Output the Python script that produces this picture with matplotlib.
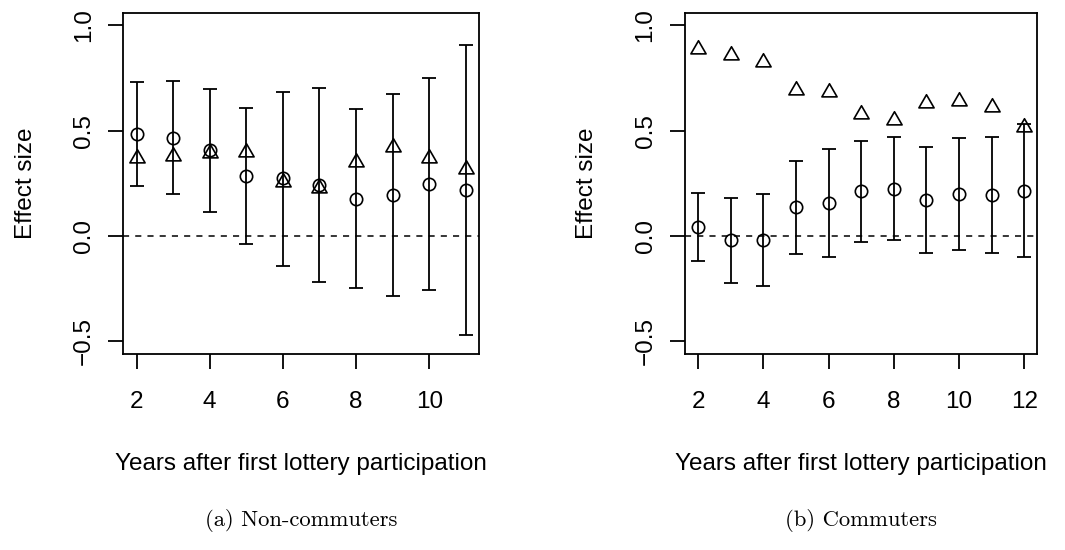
import matplotlib
matplotlib.use("Agg")
import matplotlib.pyplot as plt
from matplotlib.path import Path

# Non-commuters (panel a)
years_a = [2, 3, 4, 5, 6, 7, 8, 9, 10, 11]
circ_a = [0.483, 0.467, 0.409, 0.286, 0.273, 0.240, 0.175, 0.196, 0.248, 0.218]
lo_a = [0.237, 0.199, 0.115, -0.036, -0.142, -0.219, -0.246, -0.286, -0.256, -0.471]
hi_a = [0.731, 0.736, 0.698, 0.606, 0.685, 0.704, 0.602, 0.674, 0.752, 0.908]
tri_a = [0.370, 0.378, 0.395, 0.397, 0.255, 0.228, 0.353, 0.421, 0.370, 0.317]

# Commuters (panel b)
years_b = [2, 3, 4, 5, 6, 7, 8, 9, 10, 11, 12]
circ_b = [0.041, -0.019, -0.019, 0.136, 0.156, 0.212, 0.224, 0.171, 0.199, 0.194, 0.216]
lo_b = [-0.118, -0.223, -0.235, -0.087, -0.101, -0.028, -0.017, -0.082, -0.068, -0.082, -0.098]
hi_b = [0.202, 0.182, 0.199, 0.357, 0.414, 0.450, 0.471, 0.423, 0.463, 0.469, 0.530]
tri_b = [0.888, 0.861, 0.827, 0.691, 0.682, 0.579, 0.550, 0.632, 0.642, 0.614, 0.517]

xticks_a = [2, 4, 6, 8, 10]
xticks_b = [2, 4, 6, 8, 10, 12]
yticks = [-0.5, 0.0, 0.5, 1.0]
xlabel = "Years after first lottery participation"
ylabel = "Effect size"
captions = ["(a) Non-commuters", "(b) Commuters"]

plt.rcParams['font.family'] = ['Liberation Sans', 'DejaVu Sans']

# R style triangle (pch=2), centred on its centroid
tri_marker = Path([(0, 1), (-0.866, -0.5), (0.866, -0.5), (0, 1)],
                  [Path.MOVETO, Path.LINETO, Path.LINETO, Path.CLOSEPOLY])

fig = plt.figure(figsize=(10.65, 5.5), dpi=100)
ax_a = fig.add_axes([0.1158, 0.3564, 0.3340, 0.6205])
ax_b = fig.add_axes([0.6432, 0.3564, 0.3308, 0.6205])

lw = 1.3
fs = 17.5


def panel(ax, years, circ, lo, hi, tri, xticks):
    yerr = [[c - l for c, l in zip(circ, lo)], [h - c for h, c in zip(hi, circ)]]
    ax.axhline(0, color='black', lw=1.1, linestyle=(0, (4, 4)), zorder=1)
    ax.errorbar(years, circ, yerr=yerr, fmt='none', ecolor='black',
                elinewidth=lw, capsize=4.8, capthick=lw, zorder=2)
    ax.plot(years, circ, 'o', ms=8.9, mfc='none', mec='black', mew=1.2, zorder=3)
    ax.plot(years, tri, linestyle='none', marker=tri_marker, ms=12.6,
            mfc='none', mec='black', mew=1.2, zorder=3)
    span = years[-1] - years[0]
    ax.set_xlim(years[0] - 0.04 * span, years[-1] + 0.04 * span)
    ax.set_ylim(-0.56, 1.06)
    ax.set_xticks(xticks)
    ax.set_xticklabels([str(t) for t in xticks])
    ax.set_yticks(yticks)
    ax.set_yticklabels(["\u22120.5", "0.0", "0.5", "1.0"], rotation=90, va='center')
    ax.tick_params(axis='both', direction='out', length=10.5, width=lw,
                   labelsize=fs, color='black')
    ax.tick_params(axis='y', pad=10)
    ax.tick_params(axis='x', pad=16)
    for s in ax.spines.values():
        s.set_linewidth(lw)
    ax.set_xlabel(xlabel, fontsize=fs, labelpad=29)
    ax.set_ylabel(ylabel, fontsize=fs, labelpad=26)


panel(ax_a, years_a, circ_a, lo_a, hi_a, tri_a, xticks_a)
panel(ax_b, years_b, circ_b, lo_b, hi_b, tri_b, xticks_b)

fig.text(301 / 1065, 1 - 520 / 550, captions[0], ha='center', va='center',
         fontsize=16.3, family='cmr10')
fig.text(861 / 1065, 1 - 520 / 550, captions[1], ha='center', va='center',
         fontsize=16.3, family='cmr10')

fig.savefig("out.png", dpi=100)
